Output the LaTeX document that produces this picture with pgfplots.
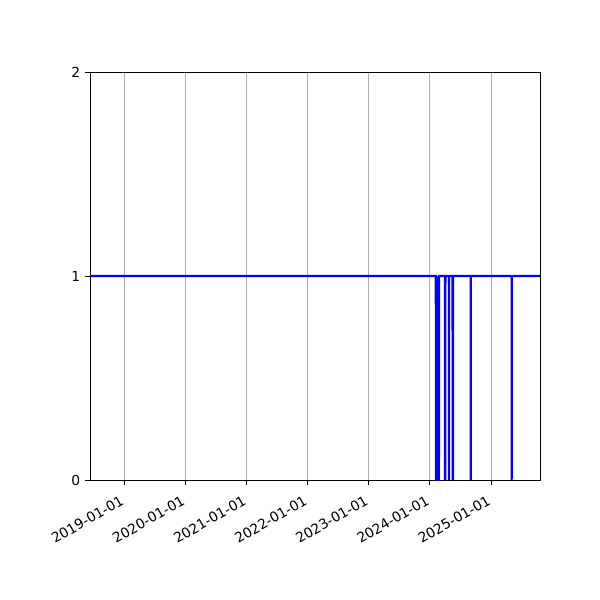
\documentclass[border=0pt]{standalone}
\usepackage{fontspec}
\setmainfont{DejaVu Sans}
\usepackage{pgfplots}
\pgfplotsset{compat=1.18}

\begin{document}
\fontsize{10}{12}\selectfont
\begin{tikzpicture}
  % page = 600x600 px at 100 dpi; axis box 90..540 x 72..480 px
  \path[use as bounding box] (-65.04pt,-86.72pt) rectangle (368.58pt,346.90pt);
  \begin{axis}[
      at={(0,0)}, anchor=south west,
      scale only axis,
      width=325.2pt, height=294.9pt,
      xmin=-205, xmax=2485,
      ymin=0, ymax=2,
      ytick={0,1,2},
      xtick={0,365,731,1096,1461,1826,2192},
      xticklabels={2019-01-01,2020-01-01,2021-01-01,2022-01-01,2023-01-01,2024-01-01,2025-01-01},
      xticklabel style={rotate=30, anchor=north east, xshift=-3pt, yshift=-1pt,
        font=\fontsize{10}{12}\selectfont},
      yticklabel style={font=\fontsize{10}{12}\selectfont},
      /pgf/number format/assume math mode=true,
      xtick pos=bottom, ytick pos=left,
      tick align=outside,
      major tick length=3.5pt,
      tick style={black, line width=0.6pt},
      axis line style={line width=0.6pt},
      xmajorgrids,
      grid style={color=black!31, line width=0.6pt},
      clip=true,
  ]
  % days since 2019-01-01; value 1 = up, 0 = down
  % dense run of down days early in 2024
  \addplot[blue, fill=blue, draw=none] coordinates {
      (1863,1)(1863,0)(1881,0)(1881,1)
  };
  \addplot[blue, line width=1.5pt, line join=miter] coordinates {
      (-205,1)
      (1862,1)(1863,0)(1881,0)(1882,1)
      (1916,1)(1917,0)(1918,1)(1919,0)(1920,1)
      (1940,1)(1941,0)(1942,1)
      (1962,1)(1963,0)(1964,1)(1965,0)(1966,1)
      (2070,1)(2071,0)(2072,1)
      (2315,1)(2316,0)(2317,1)
      (2485,1)
  };
  \end{axis}
\end{tikzpicture}
\end{document}
